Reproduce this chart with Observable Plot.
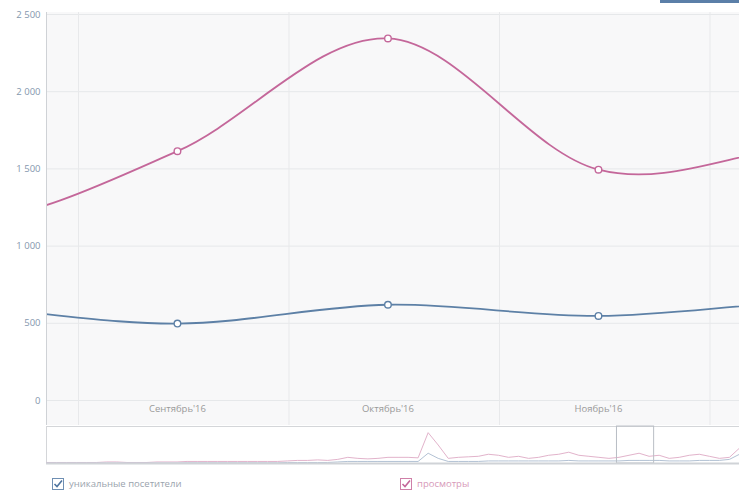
<!DOCTYPE html>
<html><head><meta charset="utf-8">
<script src="https://cdn.jsdelivr.net/npm/d3@7"></script>
<script src="https://cdn.jsdelivr.net/npm/@observablehq/plot@0.6"></script>
<style>
body{margin:0;background:#fff;font-family:"Open Sans",sans-serif;}
#wrap{position:relative;width:739px;height:492px;overflow:hidden;}
#bg{position:absolute;left:46px;top:12px;width:693px;height:413px;background:#f8f8f9;}
#btn{position:absolute;left:660px;top:0;width:79px;height:3px;background:#5b7fa8;}
#main{position:absolute;left:0;top:0;}
#nav{position:absolute;left:0;top:425px;}
#legend{position:absolute;left:0;top:477px;width:739px;height:15px;font-size:9.5px;}
.lg{position:absolute;top:0;display:flex;align-items:center;gap:5px;}
</style></head>
<body><div id="wrap"><div id="bg"></div><div id="btn"></div><div id="main"></div><div id="nav"></div>
<div id="legend">
<div class="lg" style="left:52px;color:#9aa3ad"><svg width="12" height="12"><rect x="0.5" y="0.5" width="11" height="11" fill="#fff" stroke="#6f8fb3"/><path d="M2.5 6 L5 8.5 L10 2.5" fill="none" stroke="#4f75a0" stroke-width="1.6"/></svg><span>уникальные посетители</span></div>
<div class="lg" style="left:400px;color:#d79ab9"><svg width="12" height="12"><rect x="0.5" y="0.5" width="11" height="11" fill="#fff" stroke="#cf7fa8"/><path d="M2.5 6 L5 8.5 L10 2.5" fill="none" stroke="#c4679a" stroke-width="1.6"/></svg><span>просмотры</span></div>
</div></div>
<script>
// monthly series (index 0 = Jul'16 ... 6 = Jan'17)
const months = [0, 1, 2, 3, 4, 5, 6];
const monthLabels = ["Июль'16", "Август'16", "Сентябрь'16", "Октябрь'16", "Ноябрь'16", "Декабрь'16", "Январь'17"];
const views = [1350, 1150, 1615, 2345, 1495, 1650, 1650];
const visitors = [600, 600, 498, 620, 548, 640, 640];
const shownMonths = [2, 3, 4];
const yTicks = [0, 500, 1000, 1500, 2000, 2500];
const yTickLabels = ["0", "500", "1 000", "1 500", "2 000", "2 500"];
const monthBounds = [1.53, 2.53, 3.53, 4.53];

// navigator daily series
const navViews = [1,1,1,1,1,1,1.5,1.5,1,1,1,1.5,1.5,1.5,2,2,2,2,2,2,2,2,2,2,2.5,3,3,3.5,3,4,6,5,4.5,5,6,6,6,5.5,30,18,5,6,6.5,7,9,8,6,7,5,6,8,9,11,8,7,6,5,6,8,10,7,8,5,6,8,9,7,5,6,15];
const navVisitors = [0.5,0.5,0.5,0.5,0.5,0.5,0.5,0.5,0.5,0.5,0.5,0.5,0.5,0.5,0.7,0.7,0.7,0.7,0.7,0.7,0.7,0.7,0.7,0.7,1,1,1,1,1,1.5,2,2,2,2,2,2,2,2,10,5,2,2,2,2,2.5,2.5,2.5,2.5,2.5,2.5,2.5,2.5,3,2.5,2.5,2.5,2.5,2.5,3,3,3,3,2.5,2.5,2.5,3,3,3,4,9];
const selection = [56.8, 60.5];

const pink = "#c4679a", blue = "#5d80a6";
const rows = months.map((m, i) => ({m, views: views[i], visitors: visitors[i]}));

const main = Plot.plot({
  width: 739, height: 425,
  marginTop: 14, marginBottom: 25, marginLeft: 46, marginRight: 0,
  style: {background: "transparent", fontFamily: "'Open Sans', sans-serif", fontSize: "9.5px"},
  x: {type: "linear", domain: [1.378, 4.67]},
  y: {domain: [0, 2500]},
  marks: [
    Plot.gridY(yTicks, {stroke: "#e6e8ea", strokeOpacity: 1}),
    Plot.ruleX(monthBounds, {stroke: "#e8e9eb", insetTop: -2, insetBottom: -25}),
    Plot.axisY(yTicks, {label: null, tickSize: 0, tickPadding: 6, tickFormat: d => yTickLabels[yTicks.indexOf(d)], fill: "#8497ae"}),
    Plot.axisX(shownMonths, {label: null, tickSize: 0, tickPadding: 5, tickFormat: d => monthLabels[d], fill: "#9a9a9a", fontSize: "9.5px"}),
    Plot.line(rows, {x: "m", y: "views", stroke: pink, strokeWidth: 1.8, curve: "cardinal", tension: 0, clip: true}),
    Plot.line(rows, {x: "m", y: "visitors", stroke: blue, strokeWidth: 1.8, curve: "cardinal", tension: 0, clip: true}),
    Plot.dot(rows, {x: "m", y: "views", r: 3.3, fill: "#fff", stroke: pink, strokeWidth: 1.4, clip: true}),
    Plot.dot(rows, {x: "m", y: "visitors", r: 3.3, fill: "#fff", stroke: blue, strokeWidth: 1.4, clip: true})
  ]
});
document.getElementById("main").appendChild(main);
d3.select(main).append("line").attr("x1", 46.5).attr("x2", 46.5).attr("y1", 12).attr("y2", 425).attr("stroke", "#cfd2d6");

const nrows = navViews.map((v, i) => ({i, v, u: navVisitors[i]}));
const nav = Plot.plot({
  width: 739, height: 40,
  marginTop: 1, marginBottom: 2, marginLeft: 46, marginRight: 0,
  style: {background: "#fff"},
  x: {domain: [0, navViews.length - 1], axis: null},
  y: {domain: [0, 36], axis: null},
  marks: [
    Plot.frame({stroke: "#d4d6d9"}),
    Plot.line(nrows, {x: "i", y: "v", stroke: "#e2b3cb", strokeWidth: 1}),
    Plot.line(nrows, {x: "i", y: "u", stroke: "#b3c2d4", strokeWidth: 1}),
    Plot.rect([selection], {x1: d => d[0], x2: d => d[1], y1: 0, y2: 36, fill: "none", stroke: "#b9bec5", strokeWidth: 1}),
    Plot.ruleY([0], {stroke: "#d0d3d7", strokeWidth: 2})
  ]
});
document.getElementById("nav").appendChild(nav);
</script></body></html>
